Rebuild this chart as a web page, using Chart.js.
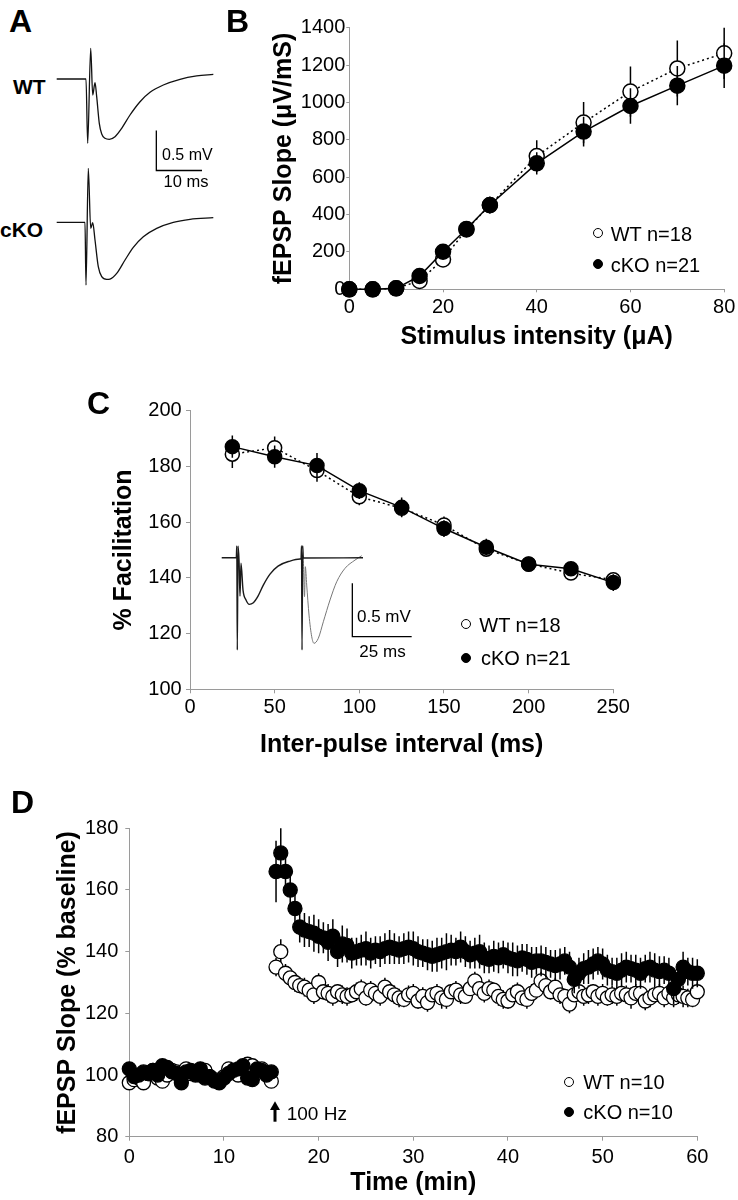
<!DOCTYPE html>
<html>
<head>
<meta charset="utf-8">
<title>Figure</title>
<script src="https://cdn.jsdelivr.net/npm/chart.js@4.4.1/dist/chart.umd.min.js"></script>
<style>
 html,body{margin:0;padding:0;background:#fff;}
 body{position:relative;width:738px;height:1200px;overflow:hidden;font-family:'Liberation Sans',Arial,Helvetica,sans-serif;color:#000;}
 .box{position:absolute;}
 .t{position:absolute;white-space:nowrap;line-height:1;color:#000;}
 .mk{position:absolute;width:10px;height:10px;border-radius:50%;box-sizing:border-box;border:1.5px solid #000;}
</style>
</head>
<body>
<div class="box" style="left:50px;top:30px;width:180px;height:270px"><canvas id="chartA" width="180" height="270"></canvas></div>
<div class="box" style="left:260px;top:0px;width:478px;height:360px"><canvas id="chartB" width="478" height="360"></canvas></div>
<div class="box" style="left:80px;top:380px;width:658px;height:380px"><canvas id="chartC" width="658" height="380"></canvas></div>
<div class="box" style="left:0px;top:790px;width:738px;height:410px"><canvas id="chartD" width="738" height="410"></canvas></div>
<svg style="position:absolute;left:268px;top:1100px" width="14" height="24"><polygon points="7,1.2 12,10 2,10" fill="#000"/><rect x="5.5" y="8" width="3" height="13.7" fill="#000"/></svg>
<script>
// ---------- Panel A: example traces (ms / mV) ----------
const aWT_ms  = [0,6.41,6.78,7.44,7.88,8.38,8.75,9.32,9.85,10.57,11.51,12.76,14.22,16.04,18.23,20.42,23.33,26.98,30.63,34.27];
const aWT_mV  = [0,0,-0.804,0.384,-0.2,-0.046,-0.221,-0.554,-0.688,-0.741,-0.754,-0.721,-0.616,-0.45,-0.284,-0.166,-0.075,-0.004,0.038,0.059];
const aCKO_ms = [0,6.19,6.41,6.91,7.44,7.88,8.38,9.10,9.85,10.94,11.66,13.13,14.95,16.76,18.95,21.88,25.51,29.17,34.27];
const aCKO_mV = [0,0,-0.784,0.675,-0.075,-0.005,-0.221,-0.555,-0.68,-0.713,-0.709,-0.638,-0.471,-0.313,-0.18,-0.075,0,0.038,0.058];
const scaleBarA_ms = [21.8,21.8,31.8];
const scaleBarA_mV = [-0.644,-1.144,-1.144];

// ---------- Panel B: input/output ----------
const bIntensity = [0,5,10,15,20,25,30,40,50,60,70,80];
const bWT     = [0,0,5,45,160,320,450,713,892,1058,1182,1263];
const bWTerr  = [3,3,5,12,20,25,40,85,110,135,150,137];
const bCKO    = [0,0,5,71,201,323,451,674,844,981,1090,1197];
const bCKOerr = [3,3,5,12,20,30,45,60,80,95,105,120];

// ---------- Panel C: paired-pulse facilitation ----------
const cInterval = [25,50,75,100,125,150,175,200,225,250];
const cWT     = [184.4,186.7,178.5,169.1,165,159,150.3,145,141.7,139.3];
const cWTerr  = [5,4,4,3,3,3,2.5,2.5,2.5,2];
const cCKO    = [187.1,183.5,180.3,171.3,165.3,157.7,151,144.9,143.3,138.3];
const cCKOerr = [4,4,4.5,3,3.5,3,3,2.5,2.5,3];
// inset trace (ms / mV)
const cInsetBlack_ms = [0,6.15,6.36,6.57,6.87,7.29,7.71,8.13,8.98,10.24,11.63,13.19,15.30,17.53,20.35,23.73,28.78,33.0,33.42,33.63,33.84,34.13,34.39,59.54];
const cInsetBlack_mV = [0,0,0.11,-0.865,0.11,-0.022,-0.359,-0.052,-0.303,-0.396,-0.437,-0.425,-0.359,-0.256,-0.153,-0.078,-0.031,-0.012,-0.012,0.112,-0.865,0.112,-0.003,0];
const cInsetGray_ms  = [34.39,34.89,35.23,35.82,36.79,37.93,38.90,40.71,42.82,45.64,48.46,51.96,56.17,59.0];
const cInsetGray_mV  = [-0.003,-0.365,-0.084,-0.256,-0.537,-0.740,-0.802,-0.755,-0.600,-0.396,-0.225,-0.099,-0.022,0.019];
const cScaleBar_ms = [55.04,55.04,80.04];
const cScaleBar_mV = [-0.24,-0.74,-0.74];

// ---------- Panel D: LTP time course ----------
const dTimeBase = [0,0.5,1,1.5,2,2.5,3,3.5,4,4.5,5,5.5,6,6.5,7,7.5,8,8.5,9,9.5,10,10.5,11,11.5,12,12.5,13,13.5,14,14.5,15];
const dTimePost = [15.5,16,16.5,17,17.5,18,18.5,19,19.5,20,
 20.5,21,21.5,22,22.5,23,23.5,24,24.5,25,
 25.5,26,26.5,27,27.5,28,28.5,29,29.5,30,
 30.5,31,31.5,32,32.5,33,33.5,34,34.5,35,
 35.5,36,36.5,37,37.5,38,38.5,39,39.5,40,
 40.5,41,41.5,42,42.5,43,43.5,44,44.5,45,
 45.5,46,46.5,47,47.5,48,48.5,49,49.5,50,
 50.5,51,51.5,52,52.5,53,53.5,54,54.5,55,
 55.5,56,56.5,57,57.5,58,58.5,59,59.5,60];
const dWTBase  = [97.5,98.5,99,97.5,100.5,101.5,99,98,100,101.5,101,99,102,100.5,101,100,101.5,99.5,98.5,98,99.5,102,101.5,100,102.5,103.5,103,101.5,102,100.5,98];
const dCKOBase = [102,99.5,100,101,100.5,101.5,100,103,102.5,101,100.5,97.5,101,101.5,100,102,99,99.5,98,97.5,99,100.5,101.5,102,103,99,98.5,102,101.5,100,101];
const dWTPost = [135,140,133,131.5,130,129,128.5,127.5,126,130,
 127,126.5,125.5,127,126,125.5,126,127,128,125,
 127.5,126.5,125.5,128.5,127,126,125,124.5,126,126.5,
 124,125.5,123.5,126,126.5,125,124.5,127,127.5,126,
 125.5,128,130.5,128,126.5,128,127.5,125.5,124.5,124,
 126,127,125,124.5,126.5,127.5,130.5,129,127,128.5,
 126,125.5,123,126,127,125.5,126,127,125.5,126.5,
 125,126,125.5,126.5,126,125,126.5,126.5,124,125,
 126,126.5,125,126.5,125,126,125.5,125,124.5,127];
const dCKOPost = [166,172,166,160,154,148,147,146.5,146,145,
 144.5,143,145,140,142.5,142,139.5,140,140.5,141,
 139.5,140.5,140,141,141.5,141,140.5,141,141.5,141,
 140,139.5,139,138.5,139,139.5,140,140.5,140,141.5,
 140,139,139.5,140,138,137.5,138.5,138,139,138,
 137.5,137,138,137.5,136.5,137,137,136.5,136,135.5,
 136,137,135,131,133,134.5,135,136,137,136,
 134,133.5,133,134,135,134.5,134,133,134.5,135,
 134,133.5,134,133,128,131,135,133.5,133,133];
const dWTBaseErr  = [1.5,1.5,1,1.5,2,1.5,1,1.5,1.5,1,1.5,2,1.5,1,1.5,1.5,1,1.5,2,1.5,1,1.5,1.5,1,1.5,2,1.5,1,1.5,1.5,2];
const dCKOBaseErr = [1.5,1,1.5,1,1.5,1,1.5,2,1.5,1,1.5,2,1.5,1,1.5,1,1.5,2,1.5,1,1.5,1,1.5,2,1.5,1,1.5,1,1.5,2,1.5];
const dWTPostErr = [3,4,3,2.5,3,2.5,3,2.5,3,3, 2.5,3,3,2.5,3,3,2.5,3,3,2.5, 3,2.5,3,3,2.5,3,3,2.5,3,3,
 2.5,3,3,2.5,3,3.5,3,2.5,3,3, 2.5,3,3,2.5,3,3,2.5,3,3,2.5, 3,3,2.5,3,3,2.5,3,3,2.5,3,
 3,2.5,3,3,2.5,3,3,2.5,3,3, 2.5,3,3,2.5,3,3.5,3,2.5,3,3, 2.5,3,3,2.5,3,3,3.5,3,2.5,3];
const dCKOPostErr = [10,8,6,5,4.5,5,5.5,5,6,5.5,
 5,6,5.5,5,6,5.5,5,4.5,5,5.5,
 5,4.5,5,5,5.5,5,4.5,5,5,5.5,
 5,4.5,5,5,5.5,5,6,5,4.5,5,
 5,4.5,5,5.5,5,4.5,5,5,4.5,5,
 5.5,5,4.5,5,5,4.5,5,5,4.5,5,
 5,4.5,5,4.5,5,5,5.5,5,4.5,5,
 5,4.5,5,5.5,5,4.5,5,5,4.5,5,
 5.5,5,4.5,5,5,4.5,5,4.5,5,4.5];

// ---------- helpers ----------
const FONT = "'Liberation Sans', Arial, Helvetica, sans-serif";
const GRAY = '#9a9a9a';
const pts = (xs, ys) => xs.map((x, i) => ({x: x, y: ys[i]}));

const errorBars = {
  id: 'errorBars',
  beforeDatasetDraw(chart, args) {
    const ds = chart.data.datasets[args.index];
    if (!ds.errors) return;
    const meta = args.meta;
    const ys = chart.scales[meta.yAxisID];
    const ctx = chart.ctx;
    ctx.save();
    ctx.strokeStyle = '#000';
    ctx.lineWidth = ds.errWidth || 1.5;
    ctx.beginPath();
    meta.data.forEach((p, i) => {
      const v = ds.data[i].y, e = ds.errors[i];
      ctx.moveTo(p.x, ys.getPixelForValue(v + e));
      ctx.lineTo(p.x, ys.getPixelForValue(v - e));
    });
    ctx.stroke();
    ctx.restore();
  }
};

function xAxis(min, max, step, title, h, tl, tp, titlePad) {
  return {
    type: 'linear', position: 'bottom', min: min, max: max,
    ticks: {stepSize: step, color: '#000', font: {family: FONT, size: 20}, padding: tp, maxRotation: 0, autoSkip: false, callback: v => String(v)},
    grid: {display: true, drawOnChartArea: false, drawTicks: true, tickLength: tl, color: GRAY, lineWidth: 1},
    border: {display: true, color: GRAY, width: 1},
    title: {display: true, text: title, color: '#000', font: {family: FONT, size: 25, weight: 'bold'}, padding: {top: 0, bottom: titlePad}},
    afterFit: s => { s.height = h; }
  };
}
function yAxis(min, max, step, title, w, tl, tp, titlePad) {
  return {
    type: 'linear', position: 'left', min: min, max: max,
    ticks: {stepSize: step, color: '#000', font: {family: FONT, size: 20}, padding: tp, callback: v => String(v)},
    grid: {display: true, drawOnChartArea: false, drawTicks: true, tickLength: tl, color: GRAY, lineWidth: 1},
    border: {display: true, color: GRAY, width: 1},
    title: {display: true, text: title, color: '#000', font: {family: FONT, size: 25, weight: 'bold'}, padding: {top: titlePad, bottom: 0}},
    afterFit: s => { s.width = w; }
  };
}
const common = {responsive: false, animation: false, devicePixelRatio: 1, events: [],
  plugins: {legend: {display: false}, tooltip: {enabled: false}}};

function wtSet(data, err, r, dashed) {
  return {data: data, errors: err, order: 2, borderColor: '#000', borderWidth: dashed ? 1.5 : 0,
    showLine: !!dashed, borderDash: [2, 3], pointRadius: r, pointBackgroundColor: '#fff',
    pointBorderColor: '#000', pointBorderWidth: 1.5, clip: false, tension: 0};
}
function koSet(data, err, r, solid) {
  return {data: data, errors: err, order: 1, borderColor: '#000', borderWidth: solid ? 1.5 : 0,
    showLine: !!solid, pointRadius: r, pointBackgroundColor: '#000',
    pointBorderColor: '#000', pointBorderWidth: 1.5, clip: false, tension: 0};
}
function trace(xs, ys, yId, color, w) {
  return {data: pts(xs, ys), yAxisID: yId, borderColor: color, borderWidth: w, pointRadius: 0,
    cubicInterpolationMode: 'monotone', order: 5, clip: false};
}

// ---------- Chart A ----------
new Chart(document.getElementById('chartA'), {
  type: 'line',
  data: {datasets: [
    trace(aWT_ms, aWT_mV, 'yw', '#111', 1.3),
    trace(aCKO_ms, aCKO_mV, 'yk', '#111', 1.3),
    Object.assign(trace(scaleBarA_ms, scaleBarA_mV, 'yw', '#000', 1.3), {cubicInterpolationMode: 'default', tension: 0})
  ]},
  options: Object.assign({}, common, {
    layout: {padding: 0},
    scales: {
      x: {type: 'linear', display: false, min: -1.466, max: 37.92},
      yw: {type: 'linear', display: false, min: -2.7625, max: 0.6125},
      yk: {type: 'linear', display: false, min: -0.971, max: 2.404}
    }
  })
});

// ---------- Chart B ----------
new Chart(document.getElementById('chartB'), {
  type: 'line',
  data: {datasets: [
    wtSet(pts(bIntensity, bWT), bWTerr, 7.5, true),
    koSet(pts(bIntensity, bCKO), bCKOerr, 7.5, true)
  ]},
  options: Object.assign({}, common, {
    layout: {padding: {left: 0, right: 12, top: 27.7, bottom: 0}},
    scales: {
      x: xAxis(0, 80, 20, 'Stimulus intensity (μA)', 70.7, 3, 2.7, 8.3),
      y: yAxis(0, 1400, 200, 'fEPSP Slope (μV/mS)', 89.3, 3, 1, 9)
    }
  }),
  plugins: [errorBars]
});

// ---------- Chart C ----------
new Chart(document.getElementById('chartC'), {
  type: 'line',
  data: {datasets: [
    wtSet(pts(cInterval, cWT), cWTerr, 7, true),
    koSet(pts(cInterval, cCKO), cCKOerr, 7, true),
    Object.assign(trace(cInsetBlack_ms, cInsetBlack_mV, 'yi', '#1a1a1a', 1.4), {xAxisID: 'xi'}),
    Object.assign(trace(cInsetGray_ms, cInsetGray_mV, 'yi', '#777', 1), {xAxisID: 'xi'}),
    Object.assign(trace(cScaleBar_ms, cScaleBar_mV, 'yi', '#000', 1.3), {xAxisID: 'xi', cubicInterpolationMode: 'default', tension: 0})
  ]},
  options: Object.assign({}, common, {
    layout: {padding: {left: 0, right: 124.7, top: 30.7, bottom: 0}},
    scales: {
      x: xAxis(0, 250, 50, 'Inter-pulse interval (ms)', 70.7, 4, 2, 0),
      y: yAxis(100, 200, 20, '% Facilitation', 110, 4, 4.3, 29),
      xi: {type: 'linear', display: false, min: -13.36, max: 165.0},
      yi: {type: 'linear', display: false, min: -1.233, max: 1.378}
    }
  }),
  plugins: [errorBars]
});

// ---------- Chart D ----------
const dTime = dTimeBase.concat(dTimePost);
new Chart(document.getElementById('chartD'), {
  type: 'line',
  data: {datasets: [
    Object.assign(wtSet(pts(dTime, dWTBase.concat(dWTPost)), dWTBaseErr.concat(dWTPostErr), 7, false), {pointBorderWidth: 1.3}),
    Object.assign(koSet(pts(dTime, dCKOBase.concat(dCKOPost)), dCKOBaseErr.concat(dCKOPostErr), 7, false), {pointBorderWidth: 1.3})
  ]},
  options: Object.assign({}, common, {
    layout: {padding: {left: 0, right: 40.7, top: 38.3, bottom: 0}},
    scales: {
      x: xAxis(0, 60, 10, 'Time (min)', 63.3, 4, 4.3, 1.5),
      y: yAxis(80, 180, 20, 'fEPSP Slope (% baseline)', 129.3, 4, 7, 53)
    }
  }),
  plugins: [errorBars]
});

// ---------- text labels ----------
function addText(str, x, capY, size, bold, center) {
  const el = document.createElement('div');
  el.className = 't';
  el.textContent = str;
  el.style.fontSize = size + 'px';
  el.style.fontWeight = bold ? 'bold' : 'normal';
  el.style.top = (capY - 0.488 * size) + 'px';
  el.style.left = x + 'px';
  if (center) el.style.transform = 'translateX(-50%)';
  document.body.appendChild(el);
}
function addMarker(cx, cy, filled) {
  const el = document.createElement('div');
  el.className = 'mk';
  el.style.left = (cx - 5) + 'px';
  el.style.top = (cy - 5) + 'px';
  el.style.background = filled ? '#000' : '#fff';
  document.body.appendChild(el);
}
addText('A', 9, 21, 32, true);
addText('B', 226, 21, 32, true);
addText('C', 87, 402.5, 32, true);
addText('D', 11, 802, 32, true);
addText('WT', 13, 86.7, 21, true);
addText('cKO', 0, 229.3, 21, true);
addText('0.5 mV', 162, 154.5, 16, false);
addText('10 ms', 186, 181, 16.5, false, true);
addText('0.5 mV', 357, 616, 17, false);
addText('25 ms', 382.5, 651, 17, false, true);
addText('100 Hz', 286.7, 1113, 19, false);
addMarker(598.3, 233.3, false); addText('WT n=18', 610.7, 234, 20, false);
addMarker(598.3, 264.3, true);  addText('cKO n=21', 610.7, 265, 20, false);
addMarker(466, 624.3, false);   addText('WT n=18', 479.3, 624.5, 20, false);
addMarker(466, 658.3, true);    addText('cKO n=21', 481, 657.5, 20, false);
addMarker(569.3, 1081.7, false); addText('WT n=10', 583.3, 1081.7, 20, false);
addMarker(569.3, 1111.7, true);  addText('cKO n=10', 583.3, 1111.7, 20, false);
</script>
</body>
</html>
